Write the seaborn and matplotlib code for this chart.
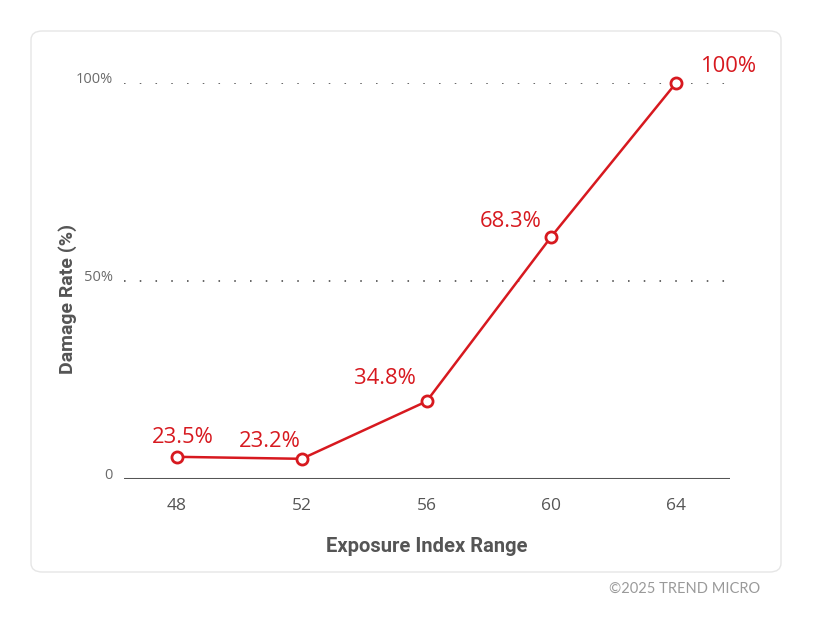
import matplotlib
matplotlib.use("Agg")
import matplotlib.pyplot as plt
from matplotlib.patches import FancyBboxPatch
import seaborn as sns

#----------------------------------------------------------
# Data
#----------------------------------------------------------
exposure_index = [48, 52, 56, 60, 64]
plot_level = [5.6, 5.1, 19.6, 61.2, 100.0]      # where the markers sit on the axis
rate_labels = ["23.5%", "23.2%", "34.8%", "68.3%", "100%"]
label_offsets = [(6, 19), (-32, 17), (-42, 23), (-41, 15), (52, 17)]   # pixels

y_ticks = [0, 50, 100]
y_tick_labels = ["0", "50%", "100%"]

RED = "#d7191f"
DARK = "#555555"
GREY = "#6b6b6b"

sns.set_theme(style="white")
plt.rcParams["font.family"] = ["Open Sans", "DejaVu Sans"]

fig = plt.figure(figsize=(8.13, 6.25), dpi=100)

# rounded card behind the chart
card = FancyBboxPatch((31 / 813, 1 - 572 / 625), 750 / 813, 541 / 625,
                      boxstyle="round,pad=0,rounding_size=0.014",
                      transform=fig.transFigure, facecolor="white",
                      edgecolor="#e6e6e6", linewidth=1.0, zorder=-5)
fig.patches.append(card)

ax = fig.add_axes([124 / 813, 1 - 479 / 625, 606 / 813, 396 / 625])
ax.set_facecolor("none")
ax.set_zorder(2)

sns.lineplot(x=exposure_index, y=plot_level, ax=ax, color=RED, linewidth=1.8,
             marker="o", markersize=8, markerfacecolor="white",
             markeredgecolor=RED, markeredgewidth=2, zorder=5, clip_on=False)

for x, y, lab, off in zip(exposure_index, plot_level, rate_labels, label_offsets):
    ax.annotate(lab, (x, y), xytext=off, textcoords="offset pixels",
                ha="center", va="center", color=RED, fontsize=15.8)

ax.set_xlim(46.3, 65.73)
ax.set_ylim(0, 100)

# dotted gridlines at 50 and 100, solid baseline at 0
for yv in y_ticks[1:]:
    ax.axhline(yv, color="#666666", linewidth=1.4, linestyle=(0, (0.8, 7.3)), zorder=1)
ax.axhline(0, color=DARK, linewidth=2.2, zorder=2)

ax.set_xticks(exposure_index)
ax.set_xticklabels([str(v) for v in exposure_index], color=DARK, fontsize=12.5)
ax.set_yticks(y_ticks)
ax.set_yticklabels(y_tick_labels, color=GREY, fontsize=10.5)
ax.tick_params(axis="x", length=0, pad=14)
ax.tick_params(axis="y", length=0, pad=8)
for lab in ax.get_yticklabels():
    lab.set_verticalalignment("baseline")

for side in ["top", "right", "left", "bottom"]:
    ax.spines[side].set_visible(False)

ax.set_xlabel("Exposure Index Range", color=DARK, fontsize=14.5,
              fontweight="bold", labelpad=16, family=["Roboto", "DejaVu Sans"])
ax.set_ylabel("Damage Rate (%)", color=DARK, fontsize=14,
              fontweight="bold", family=["Roboto", "DejaVu Sans"])
ax.yaxis.set_label_coords(-0.078, 0.455)

fig.text(760 / 813, 1 - 589 / 625, "\u00a92025 TREND MICRO", ha="right",
         va="center", color="#9a9a9a", fontsize=10.5, family=["Lato", "DejaVu Sans"])

fig.savefig("out.png", dpi=100)
